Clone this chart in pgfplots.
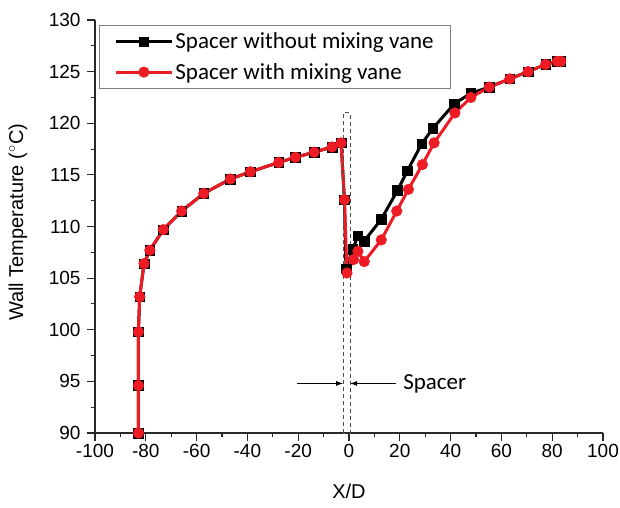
\documentclass[border=0pt]{standalone}
\usepackage{fontspec}
\setmainfont{Liberation Sans}
\newfontfamily\calfont{Carlito}
\usepackage{pgfplots}
\pgfplotsset{compat=1.18}
\usetikzlibrary{arrows.meta}

\definecolor{vanered}{RGB}{237,28,36}
\definecolor{axisgray}{RGB}{40,40,40}

% Wall temperature along the rod, X/D
\pgfplotstableread{
x      T
-82.9  90.0
-82.9  94.6
-82.9  99.8
-82.4  103.2
-80.7  106.4
-78.4  107.7
-73.1  109.7
-65.9  111.5
-57.2  113.2
-46.7  114.6
-38.8  115.3
-27.7  116.2
-21.1  116.7
-13.7  117.2
-6.7   117.7
-3.1   118.1
-1.8   112.6
-1.2   105.9
1.5    107.8
3.5    109.1
6.0    108.6
12.7   110.7
19.1   113.5
23.0   115.4
28.6   118.0
33.0   119.5
41.5   121.9
48.0   122.9
55.2   123.5
63.3   124.3
70.5   125.0
77.4   125.7
82.0   126.0
83.4   126.0
}\novane

\pgfplotstableread{
x      T
-82.9  90.0
-82.9  94.6
-82.9  99.8
-82.4  103.2
-80.7  106.4
-78.4  107.7
-73.1  109.7
-65.9  111.5
-57.2  113.2
-46.7  114.6
-38.8  115.3
-27.7  116.2
-21.1  116.7
-13.7  117.2
-6.7   117.7
-3.1   118.1
-1.8   112.6
-0.8   105.5
1.8    106.8
3.5    107.6
6.0    106.6
12.7   108.7
18.8   111.5
23.4   113.6
28.9   116.0
33.5   118.1
41.7   121.0
48.0   122.5
55.2   123.5
63.3   124.3
70.5   125.0
77.4   125.7
82.0   126.0
83.4   126.0
}\withvane

\begin{document}
\begin{tikzpicture}
\useasboundingbox (-95pt,-74pt) rectangle (525pt,433pt);
\begin{axis}[
  at={(0pt,0pt)}, anchor=south west,
  scale only axis, width=508pt, height=413pt,
  xmin=-100, xmax=100, ymin=90, ymax=130,
  xtick={-100,-80,...,100}, minor x tick num=1,
  ytick={90,95,...,130}, minor y tick num=1,
  axis x line*=bottom, axis y line*=left,
  axis line style={-, axisgray, line width=1.1pt},
  tick style={axisgray, line width=1.1pt},
  tick align=outside,
  major tick length=8pt, minor tick length=4pt,
  /pgf/number format/assume math mode=true,
  ticklabel style={font=\fontsize{19}{22}\selectfont},
  yticklabel style={xshift=-3pt},
  label style={font=\fontsize{20}{24}\selectfont},
  xlabel={X/D},
  ylabel={Wall Temperature ($^{\circ}$C)},
  x label style={at={(axis description cs:0.5,0)}, anchor=center, yshift=-58pt},
  y label style={at={(axis description cs:-0.1516,0.51)}, anchor=center},
  legend style={at={(axis description cs:0,1)}, anchor=north west,
    xshift=4pt, yshift=-5pt, draw=gray, line width=0.8pt,
    font=\calfont\fontsize{23}{27}\selectfont,
    inner xsep=15pt, inner ysep=1pt, row sep=0pt,
    nodes={inner xsep=2pt, inner ysep=6.5pt}},
  legend cell align=left,
  legend image code/.code={%
    \draw[line width=3pt, mark repeat=2, mark phase=2]
      plot coordinates {(0pt,0pt) (28pt,0pt) (56pt,0pt)};},
]
\addplot[black, line width=3pt, mark=square*, mark size=4.8pt,
  mark options={solid, line width=0.5pt}] table[x=x,y=T] {\novane};
\addlegendentry{Spacer without mixing vane}
\addplot[vanered, line width=3pt, mark=*, mark size=5.3pt,
  mark options={solid, line width=0.5pt}] table[x=x,y=T] {\withvane};
\addlegendentry{Spacer with mixing vane}

% spacer region and its annotation
\draw[dashed, dash pattern=on 4pt off 3pt, black!70, line width=1pt]
  (axis cs:-2.3,90) rectangle (axis cs:0.4,121);
\draw[-{Latex[length=7pt,width=5pt]}, black, line width=0.8pt]
  (axis cs:-20.3,94.8) -- (axis cs:-2.3,94.8);
\draw[-{Latex[length=7pt,width=5pt]}, black, line width=0.8pt]
  (axis cs:18.6,94.8) -- (axis cs:0.4,94.8);
\node[anchor=west, font=\calfont\fontsize{23}{27}\selectfont, inner sep=0pt]
  at (axis cs:21.3,94.8) {Spacer};
\end{axis}
\end{tikzpicture}
\end{document}
